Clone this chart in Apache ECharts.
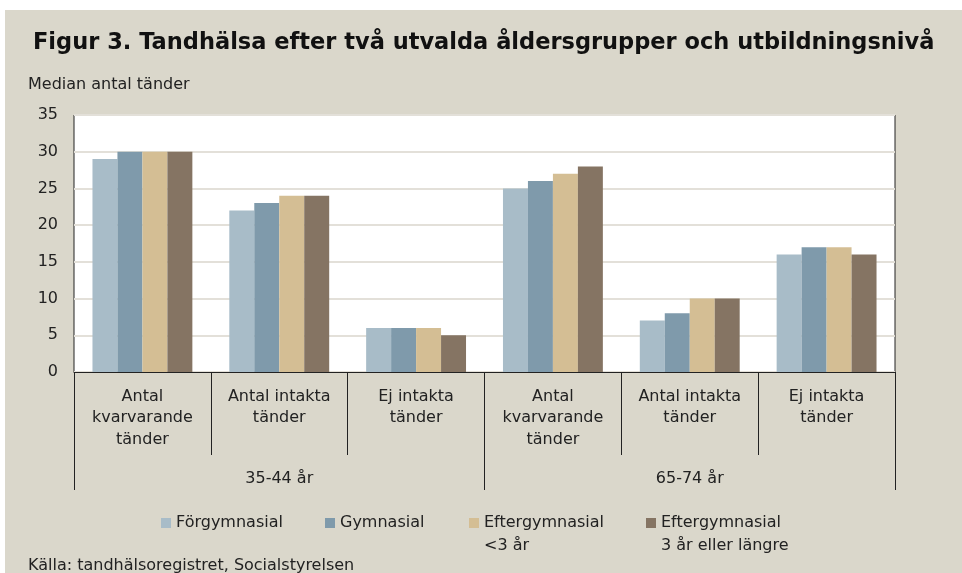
<!DOCTYPE html>
<html>
<head>
<meta charset="utf-8">
<script src="https://cdn.jsdelivr.net/npm/echarts@6/dist/echarts.min.js"></script>
<style>
  html, body { margin: 0; padding: 0; background: #ffffff; }
  #chart-container { position: absolute; left: 5px; top: 10px; width: 957px; height: 563px; background: #dad7cb; }
</style>
</head>
<body>
<div id="chart-container"></div>
<script>
// kategorier och data
var categories = [
  "Antal\nkvarvarande\ntänder", "Antal intakta\ntänder", "Ej intakta\ntänder",
  "Antal\nkvarvarande\ntänder", "Antal intakta\ntänder", "Ej intakta\ntänder"
];
var ageGroups = ["35-44 år", "65-74 år"];
var seriesNames = ["Förgymnasial", "Gymnasial", "Eftergymnasial\n<3 år", "Eftergymnasial\n3 år eller längre"];
var forgymnasial = [29, 22, 6, 25, 7, 16];
var gymnasial = [30, 23, 6, 26, 8, 17];
var efterKort = [30, 24, 6, 27, 10, 17];
var efterLang = [30, 24, 5, 28, 10, 16];
var yTicks = [0, 35, 5]; // min, max, steg

var colors = ["#a8bcc8", "#7f9aab", "#d4be94", "#857463"];
var font = "DejaVu Sans";
var legendLeft = [156, 320, 464, 641];
var legendCenterY = 513;

var dom = document.getElementById("chart-container");
var myChart = echarts.init(dom, null, { renderer: "canvas", useDirtyRect: false });

var values = [forgymnasial, gymnasial, efterKort, efterLang];
var series = seriesNames.map(function (name, i) {
  return {
    name: name,
    type: "bar",
    data: values[i],
    barGap: "0%",
    barCategoryGap: "27%",
    itemStyle: { color: colors[i] }
  };
});

// en legend per serie, tvåradiga får en tom rad överst så första raden hamnar vid rutan
var legends = seriesNames.map(function (name, i) {
  var twoLines = name.indexOf("\n") >= 0;
  return {
    left: legendLeft[i],
    top: twoLines ? legendCenterY - 34.5 : legendCenterY - 11.5,
    padding: 0,
    itemWidth: 10,
    itemHeight: 10,
    icon: "rect",
    formatter: function (n) { return twoLines ? " \n" + n : n; },
    textStyle: { fontFamily: font, fontSize: 16, color: "#222", lineHeight: 23 },
    data: [name]
  };
});

var option = {
  animation: false,
  color: colors,
  textStyle: { fontFamily: font },
  title: [
    {
      text: "Figur 3. Tandhälsa efter två utvalda åldersgrupper och utbildningsnivå",
      left: 23, top: 17,
      textStyle: { fontFamily: font, fontWeight: "bold", fontSize: 22.5, color: "#111" }
    },
    {
      text: "Median antal tänder",
      left: 18, top: 62,
      textStyle: { fontFamily: font, fontWeight: "normal", fontSize: 16, color: "#222" }
    },
    {
      text: "Källa: tandhälsoregistret, Socialstyrelsen",
      left: 18, top: 543,
      textStyle: { fontFamily: font, fontWeight: "normal", fontSize: 16, color: "#222" }
    }
  ],
  legend: legends,
  grid: {
    left: 69, right: 67, top: 105, bottom: 201,
    show: true,
    backgroundColor: "#ffffff",
    borderColor: "#222",
    borderWidth: 1,
    containLabel: false
  },
  xAxis: [
    {
      type: "category",
      position: "bottom",
      data: categories,
      axisLine: { onZero: false, lineStyle: { color: "#222", width: 1 } },
      axisTick: { show: true, interval: 0, length: 83, lineStyle: { color: "#222" } },
      axisLabel: {
        interval: 0, margin: 14, color: "#222",
        fontFamily: font, fontSize: 16, lineHeight: 21.5, align: "center"
      }
    },
    {
      type: "category",
      position: "bottom",
      data: ageGroups,
      axisLine: { show: false, onZero: false },
      axisTick: { show: true, interval: 0, length: 118, lineStyle: { color: "#222" } },
      axisLabel: { interval: 0, margin: 99, color: "#222", fontFamily: font, fontSize: 16 }
    }
  ],
  yAxis: {
    type: "value",
    min: yTicks[0], max: yTicks[1], interval: yTicks[2],
    axisLine: { show: false },
    axisTick: { show: false },
    axisLabel: { margin: 16, color: "#222", fontFamily: font, fontSize: 16 },
    splitLine: { lineStyle: { color: "#e3e0d9", width: 2 } }
  },
  series: series
};

myChart.setOption(option);
window.addEventListener("resize", myChart.resize);
</script>
</body>
</html>
